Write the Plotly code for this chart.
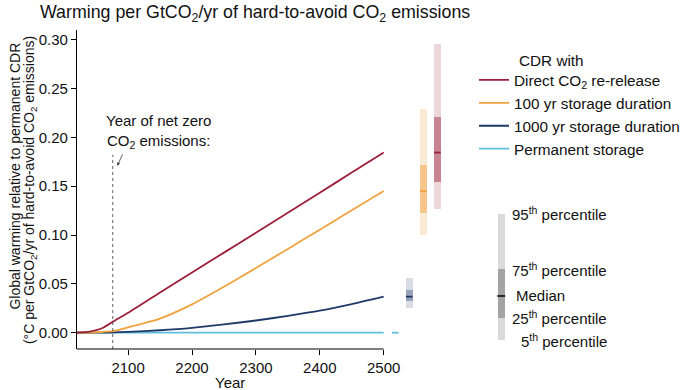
import plotly.graph_objects as go

# ---------------- data ----------------
years = [2020, 2040, 2060, 2076, 2100, 2150, 2200, 2250, 2300, 2350, 2400, 2450, 2500]
direct_release = [0.0, 0.0012, 0.0048, 0.0113, 0.0205, 0.0412, 0.0616, 0.0820, 0.1024, 0.1229, 0.1434, 0.1640, 0.1845]
storage_100yr = [0.0, 0.0002, 0.0007, 0.0015, 0.0055, 0.0145, 0.0290, 0.0470, 0.0662, 0.0858, 0.1055, 0.1253, 0.1452]
storage_1000yr = [0.0, 0.0, 0.0001, 0.0003, 0.0008, 0.0025, 0.0050, 0.0085, 0.0125, 0.0172, 0.0225, 0.0293, 0.0369]
permanent = [0.0] * len(years)

series_names = ["Direct CO<sub>2</sub> re-release", "100 yr storage duration",
                "1000 yr storage duration", "Permanent storage"]
series_values = [direct_release, storage_100yr, storage_1000yr, permanent]
series_colors = ["#9C1F3A", "#EFA23E", "#1F3A68", "#5DBFD9"]
light_colors = ["rgba(156,31,58,0.18)", "rgba(239,162,62,0.22)", "rgba(31,58,104,0.18)", "rgba(93,191,217,0.2)"]
dark_colors = ["rgba(156,31,58,0.45)", "rgba(239,162,62,0.5)", "rgba(31,58,104,0.35)", "rgba(93,191,217,0.5)"]

# percentile bars at year 2500 (5th, 25th, median, 75th, 95th)
bar_positions = [2584, 2562, 2540, 2518]
pct_05 = [0.127, 0.100, 0.0256, 0.0]
pct_25 = [0.1545, 0.123, 0.0325, 0.0]
pct_50 = [0.1845, 0.145, 0.0369, 0.0]
pct_75 = [0.221, 0.172, 0.0438, 0.0]
pct_95 = [0.296, 0.229, 0.0557, 0.0]
bar_width = 10.4

net_zero_year = 2076

# percentile key
key_position = 2684
key_values = [-0.0075, 0.0154, 0.0376, 0.065, 0.1217]  # 5, 25, 50, 75, 95
key_labels = ["5<sup>th</sup> percentile", "25<sup>th</sup> percentile", "Median",
              "75<sup>th</sup> percentile", "95<sup>th</sup> percentile"]

x_ticks = [2100, 2200, 2300, 2400, 2500]
y_ticks = [0.0, 0.05, 0.10, 0.15, 0.20, 0.25, 0.30]

FONT = "Arial, Liberation Sans, sans-serif"
L, T, B, W, H = 77, 30, 41, 685, 390
PW, PH = W - L, H - T - B


def px_x(p):
    return (p - L) / PW


def px_y(p):
    return (H - B - p) / PH


fig = go.Figure()

# lines (draw permanent first so others overlay it)
for i in reversed(range(4)):
    fig.add_trace(go.Scatter(
        x=years, y=series_values[i], mode="lines", name=series_names[i],
        line=dict(color=series_colors[i], width=1.8, shape="spline", smoothing=0.6),
        showlegend=True))

# percentile bars
for i in range(4):
    if pct_95[i] - pct_05[i] > 0:
        fig.add_trace(go.Bar(x=[bar_positions[i]], y=[pct_95[i] - pct_05[i]], base=[pct_05[i]],
                             width=bar_width, marker=dict(color=light_colors[i], line=dict(width=0)),
                             showlegend=False, hoverinfo="skip"))
        fig.add_trace(go.Bar(x=[bar_positions[i]], y=[pct_75[i] - pct_25[i]], base=[pct_25[i]],
                             width=bar_width, marker=dict(color=dark_colors[i], line=dict(width=0)),
                             showlegend=False, hoverinfo="skip"))
    fig.add_trace(go.Scatter(x=[bar_positions[i] - bar_width / 2, bar_positions[i] + bar_width / 2],
                             y=[pct_50[i], pct_50[i]], mode="lines",
                             line=dict(color=series_colors[i], width=1.8),
                             showlegend=False, hoverinfo="skip"))

# percentile key bar
fig.add_trace(go.Bar(x=[key_position], y=[key_values[4] - key_values[0]], base=[key_values[0]],
                     width=bar_width, marker=dict(color="#DADADA", line=dict(width=0)),
                     showlegend=False, hoverinfo="skip"))
fig.add_trace(go.Bar(x=[key_position], y=[key_values[3] - key_values[1]], base=[key_values[1]],
                     width=bar_width, marker=dict(color="#A3A3A3", line=dict(width=0)),
                     showlegend=False, hoverinfo="skip"))
fig.add_trace(go.Scatter(x=[key_position - bar_width * 0.6, key_position + bar_width * 0.6],
                         y=[key_values[2], key_values[2]], mode="lines",
                         line=dict(color="black", width=1.5), showlegend=False, hoverinfo="skip"))

for v, lab in zip(key_values, key_labels):
    if lab == "Median":
        fig.add_annotation(x=2704, y=v, text=lab, showarrow=False, xanchor="left", yanchor="middle",
                           font=dict(size=15, color="#111"))
    else:
        fig.add_annotation(x=2853, y=v, text=lab, showarrow=False, xanchor="right", yanchor="middle",
                           font=dict(size=15, color="#111"))

# net zero line and annotation
fig.add_shape(type="line", x0=net_zero_year, x1=net_zero_year, y0=-0.0167, y1=0.182,
              line=dict(color="#333", width=0.8, dash="dot"))
fig.add_annotation(x=2148, y=0.2057, text="Year of net zero<br>CO<sub>2</sub> emissions:",
                   showarrow=False, font=dict(size=15, color="#111"), align="center")
fig.add_annotation(x=2083, y=0.1709, ax=2092.5, ay=0.1842, axref="x", ayref="y", xref="x", yref="y",
                   text="", showarrow=True, arrowhead=2, arrowsize=0.8, arrowwidth=0.8, arrowcolor="#333")

# x axis line only from 2020 to 2500
fig.add_shape(type="line", x0=2020, x1=2500, y0=0, y1=0, yref="paper", xref="x",
              line=dict(color="black", width=1.2))

# x axis title
fig.add_annotation(x=2260, y=px_y(382), xref="x", yref="paper", text="Year", showarrow=False,
                   xanchor="center", yanchor="middle", font=dict(size=15, color="#111"))

# y axis title (two lines)
fig.add_annotation(x=px_x(14), y=px_y(176.5), xref="paper", yref="paper",
                   text="Global warming relative to permanent CDR", textangle=-90, showarrow=False,
                   xanchor="center", yanchor="middle", font=dict(size=14, color="#111"))
fig.add_annotation(x=px_x(30), y=px_y(190), xref="paper", yref="paper",
                   text="(°C per GtCO<sub>2</sub>/yr of hard-to-avoid CO<sub>2</sub> emissions)",
                   textangle=-90, showarrow=False,
                   xanchor="center", yanchor="middle", font=dict(size=14, color="#111"))

# legend title
fig.add_annotation(x=px_x(518), y=px_y(60), xref="paper", yref="paper", text="CDR with", showarrow=False,
                   xanchor="left", yanchor="middle", font=dict(size=15.3, color="#111"))

fig.update_layout(
    width=W, height=H,
    margin=dict(l=L, r=0, t=T, b=B),
    paper_bgcolor="white", plot_bgcolor="white",
    font=dict(family=FONT, size=15, color="#111"),
    barmode="overlay",
    bargap=0,
    title=dict(text="Warming per GtCO<sub>2</sub>/yr of hard-to-avoid CO<sub>2</sub> emissions",
               x=40 / W, xanchor="left", xref="container", y=1 - 12 / H, yanchor="middle",
               yref="container", font=dict(size=17.8, color="#111")),
    legend=dict(x=px_x(474.5), y=px_y(63.5), xanchor="left", yanchor="top", traceorder="reversed",
                bgcolor="rgba(0,0,0,0)", font=dict(size=15.3), itemwidth=30, tracegroupgap=0),
    xaxis=dict(range=[2020, 2020 + PW / 0.64], showline=False, showgrid=False, zeroline=False,
               tickvals=x_ticks, ticks="outside", ticklen=5, tickcolor="black", tickwidth=1,
               automargin=False),
    yaxis=dict(range=[-0.0167, 0.31], showline=True, linecolor="black", linewidth=1.2,
               showgrid=False, zeroline=False, tickvals=y_ticks, tickformat=".2f",
               ticks="outside", ticklen=5, tickcolor="black", tickwidth=1, automargin=False),
)

fig.write_html("out.html", config={"displayModeBar": False},
               post_script="document.body.style.margin='0';")
